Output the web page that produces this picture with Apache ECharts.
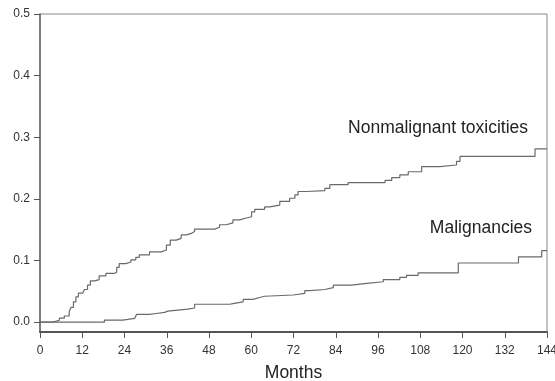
<!DOCTYPE html>
<html>
<head>
<meta charset="utf-8">
<title>Cumulative incidence</title>
<script src="https://cdn.jsdelivr.net/npm/echarts@6/dist/echarts.min.js"></script>
<style>
  html, body { margin: 0; padding: 0; background: #fff; }
  #chart { width: 555px; height: 381px; }
</style>
</head>
<body>
<div id="chart"></div>
<script>
// step points: [month, value after the step]
const toxMonths = [0, 3.6, 5.5, 6.9, 8.3, 8.8, 9.5, 10.2, 10.9, 12.1, 12.6, 13.5, 14.3, 15.6, 16.8, 18.7, 21.1, 21.8, 22.5, 24.4, 25.8, 27.2, 28.2, 31.1, 34.5, 35.9, 37.0, 38.7, 40.1, 41.6, 43.0, 43.9, 49.6, 51.0, 52.9, 54.8, 56.7, 58.6, 60.1, 61.0, 63.8, 65.3, 68.1, 70.9, 72.4, 73.3, 75.7, 80.9, 82.3, 87.5, 98.0, 99.9, 102.2, 104.6, 108.4, 113.6, 118.3, 119.3, 140.6, 144]
const toxValues = [0, 0.003, 0.0065, 0.010, 0.017, 0.024, 0.033, 0.041, 0.047, 0.049, 0.053, 0.060, 0.067, 0.069, 0.075, 0.079, 0.081, 0.089, 0.095, 0.0976, 0.101, 0.105, 0.109, 0.114, 0.117, 0.125, 0.133, 0.136, 0.1415, 0.144, 0.147, 0.151, 0.154, 0.158, 0.161, 0.166, 0.169, 0.171, 0.179, 0.183, 0.187, 0.190, 0.196, 0.201, 0.2065, 0.212, 0.2135, 0.217, 0.223, 0.2265, 0.230, 0.2346, 0.239, 0.244, 0.2525, 0.255, 0.261, 0.269, 0.281, 0.281]

const malMonths = [0, 18.3, 23.5, 24.9, 26.9, 27.4, 31.1, 33.0, 35.4, 36.3, 42.0, 43.9, 53.9, 54.8, 57.7, 60.5, 62.4, 63.8, 71.9, 75.2, 76.6, 80.9, 83.3, 88.5, 92.8, 97.5, 102.2, 104.1, 107.4, 118.8, 135.9, 142.5, 144]
const malValues = [0, 0.0033, 0.0044, 0.006, 0.0086, 0.0125, 0.014, 0.0158, 0.0179, 0.021, 0.023, 0.029, 0.030, 0.033, 0.037, 0.040, 0.042, 0.044, 0.0467, 0.051, 0.053, 0.056, 0.060, 0.063, 0.0655, 0.069, 0.0727, 0.076, 0.080, 0.096, 0.106, 0.116, 0.116]

const yTicks = [0, 0.1, 0.2, 0.3, 0.4, 0.5]
const xTicks = [0, 12, 24, 36, 48, 60, 72, 84, 96, 108, 120, 132, 144]
const seriesNames = ['Nonmalignant toxicities', 'Malignancies']

const font = 'Liberation Sans, Arial, Helvetica, sans-serif'
const lineColor = '#6a6a6a'

const chart = echarts.init(document.getElementById('chart'), null, { renderer: 'canvas' })

const option = {
  animation: false,
  grid: {
    left: 40, right: 8, top: 14, bottom: 49,
    outerBoundsMode: 'none',
    show: true, borderColor: '#888', borderWidth: 1
  },
  xAxis: {
    type: 'value',
    min: xTicks[0],
    max: xTicks[xTicks.length - 1],
    interval: 12,
    name: 'Months',
    nameLocation: 'middle',
    nameGap: 32,
    nameTextStyle: { fontFamily: font, fontSize: 17.5, color: '#222' },
    axisLine: { show: true, onZero: false, lineStyle: { color: '#555', width: 2 } },
    axisTick: { show: true, length: 6, lineStyle: { color: '#555' } },
    axisLabel: { fontFamily: font, fontSize: 12, color: '#333', margin: 13 },
    splitLine: { show: false }
  },
  yAxis: {
    type: 'value',
    min: -0.016,
    max: 0.5,
    axisLine: { show: true, onZero: false, lineStyle: { color: '#666', width: 1.5 } },
    axisTick: { show: true, length: 6, customValues: yTicks, lineStyle: { color: '#555' } },
    axisLabel: {
      fontFamily: font, fontSize: 12, color: '#333', margin: 10,
      customValues: yTicks,
      formatter: v => v.toFixed(1)
    },
    splitLine: { show: false }
  },
  series: [
    {
      name: seriesNames[0],
      type: 'line',
      step: 'end',
      symbol: 'none',
      data: toxMonths.map((m, i) => [m, toxValues[i]]),
      lineStyle: { color: lineColor, width: 1.2 }
    },
    {
      name: seriesNames[1],
      type: 'line',
      step: 'end',
      symbol: 'none',
      data: malMonths.map((m, i) => [m, malValues[i]]),
      lineStyle: { color: lineColor, width: 1.2 }
    }
  ],
  // curve labels
  graphic: [
    {
      type: 'text', right: 27, top: 119,
      style: { text: seriesNames[0], font: '17.5px ' + font, fill: '#222' }
    },
    {
      type: 'text', right: 23, top: 219,
      style: { text: seriesNames[1], font: '17.5px ' + font, fill: '#222' }
    }
  ]
}

chart.setOption(option)
</script>
</body>
</html>
